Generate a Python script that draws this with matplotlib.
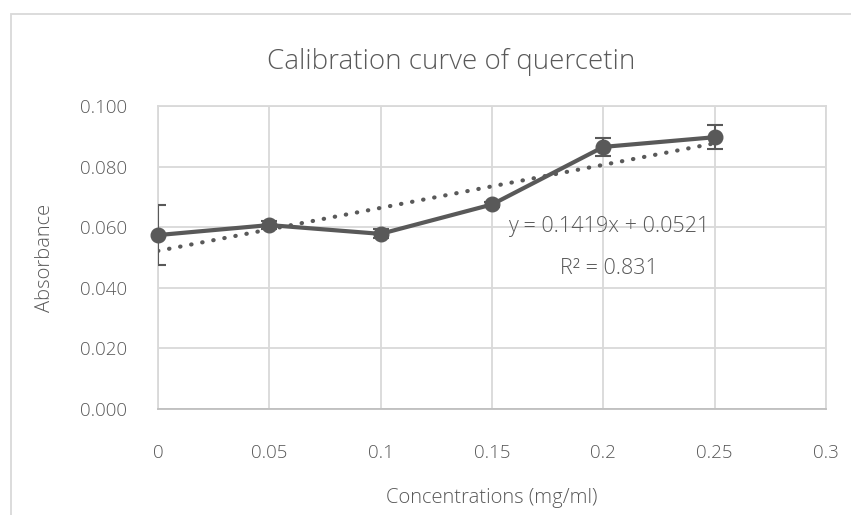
import numpy as np
import matplotlib
matplotlib.use("Agg")
import matplotlib.pyplot as plt
from matplotlib.patches import Rectangle

# Data
concentration = [0.0, 0.05, 0.10, 0.15, 0.20, 0.25]
absorbance = [0.0574, 0.0607, 0.0578, 0.0675, 0.0865, 0.0897]
error = [0.0098, 0.0012, 0.0015, 0.0008, 0.0030, 0.0040]
x_ticks = [0, 0.05, 0.1, 0.15, 0.2, 0.25, 0.3]
x_tick_labels = ["0", "0.05", "0.1", "0.15", "0.2", "0.25", "0.3"]
y_ticks = [0.0, 0.02, 0.04, 0.06, 0.08, 0.10]
y_tick_labels = ["0.000", "0.020", "0.040", "0.060", "0.080", "0.100"]
title = "Calibration curve of quercetin"
equation_text = "y = 0.1419x + 0.0521"
r2_text = "R² = 0.831"

plt.rcParams['font.family'] = ['Open Sans', 'DejaVu Sans']
W = 'light'
txt = "#595959"
grid_c = "#d9d9d9"
series_c = "#595959"

fig = plt.figure(figsize=(8.51, 5.15), dpi=100)
fig.patches.append(Rectangle((11/851, -0.05), 1.2, 1 - 14/515 + 0.05,
                             transform=fig.transFigure, fill=False,
                             edgecolor=grid_c, linewidth=1.3))
ax = fig.add_axes([158/851, (515-409)/515, (826-158)/851, (409-106)/515])

ax.set_xlim(0, 0.3)
ax.set_ylim(0, 0.1)
ax.set_xticks(x_ticks)
ax.set_xticklabels(x_tick_labels)
ax.set_yticks(y_ticks)
ax.set_yticklabels(y_tick_labels)
ax.grid(True, color=grid_c, linewidth=1.3)
ax.set_axisbelow(True)
for s in ["top", "right", "left"]:
    ax.spines[s].set_color(grid_c)
    ax.spines[s].set_linewidth(1.3)
ax.spines["bottom"].set_color("#bfbfbf")
ax.spines["bottom"].set_linewidth(1.3)
ax.tick_params(length=0, colors=txt, labelsize=13.5)
ax.tick_params(axis='y', pad=22)
ax.tick_params(axis='x', pad=25)
for lab in ax.get_xticklabels() + ax.get_yticklabels():
    lab.set_fontweight(W)

# Trendline
coef = np.polyfit(concentration, absorbance, 1)
xs = np.array([concentration[0], concentration[-1]])
ax.plot(xs, np.polyval(coef, xs), color=series_c, linewidth=3,
        linestyle=(0, (0.1, 2.6)), dash_capstyle='round', zorder=3)

ax.errorbar(concentration, absorbance, yerr=error, fmt='none',
            ecolor=series_c, elinewidth=1.5, capsize=6, capthick=1.5,
            zorder=4)
ax.plot(concentration, absorbance, color=series_c, linewidth=3,
        marker='o', markersize=10.5, zorder=5, clip_on=False)

ax.text(0.2025, 0.0601, equation_text, color=txt, fontsize=15.5,
        ha='center', va='center', fontweight=W)
ax.text(0.2025, 0.0465, r2_text, color=txt, fontsize=15.5,
        ha='center', va='center', fontweight=W)

fig.text(451/851, 1 - 62/515, title, color=txt, fontsize=20,
         ha='center', va='center', fontweight=W)
fig.text(492/851, 1 - 498/515, "Concentrations (mg/ml)", color=txt,
         fontsize=14.5, ha='center', va='center', fontweight=W)
fig.text(45/851, 1 - 258/515, "Absorbance", color=txt, fontsize=14.5,
         ha='center', va='center', rotation=90, fontweight=W)

fig.savefig("out.png", dpi=100)
